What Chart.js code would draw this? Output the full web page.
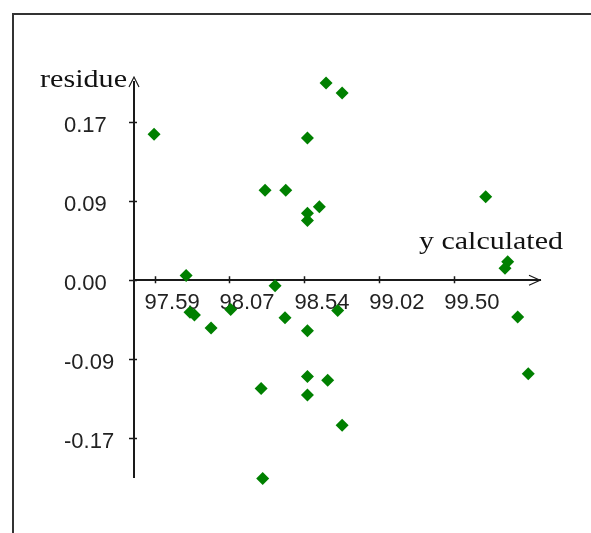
<!DOCTYPE html>
<html>
<head>
<meta charset="utf-8">
<script src="https://cdn.jsdelivr.net/npm/chart.js@4.4.0/dist/chart.umd.min.js"></script>
<style>
html, body { margin: 0; padding: 0; background: #fff; overflow: hidden; }
#frame { position: absolute; left: 12px; top: 13px; width: 700px; height: 700px;
	border-left: 2px solid #333; border-top: 2px solid #333; }
#chart-area { position: absolute; left: 0; top: 0; }
</style>
</head>
<body>
<div id="frame"></div>
<canvas id="chart-area" width="591" height="533"></canvas>
<script>
// values
var yCalculated = [97.586, 97.790, 97.815, 97.843, 97.949, 98.074, 98.293, 98.425, 98.357, 98.420,
	98.268, 98.278, 98.563, 98.682, 98.784, 98.639, 98.563, 98.563, 98.756, 98.563,
	98.563, 98.692, 98.563, 98.784, 99.699, 99.839, 99.822, 99.903, 99.970];
var residue = [0.159, 0.005, -0.035, -0.038, -0.052, -0.032, 0.098, 0.098, -0.006, -0.041,
	-0.118, -0.216, 0.155, 0.215, 0.204, 0.080, 0.073, 0.065, -0.033, -0.055,
	-0.105, -0.109, -0.125, -0.158, 0.091, 0.020, 0.013, -0.040, -0.102];

var xTickValues = [97.589, 98.0665, 98.544, 99.0215, 99.499];
var xTickLabels = ['97.59', '98.07', '98.54', '99.02', '99.50'];
var yTickValues = [-0.172, -0.086, 0, 0.086, 0.172];
var yTickLabels = ['-0.17', '-0.09', '0.00', '0.09', '0.17'];

var points = yCalculated.map(function (x, i) {
	return { x: x, y: residue[i] };
});

// draws text stretched to a given width
function wideText(ctx, text, x, y, w) {
	var m = ctx.measureText(text).width;
	ctx.save();
	ctx.translate(x, y);
	ctx.scale(w / m, 1);
	ctx.fillText(text, 0, 0);
	ctx.restore();
}

var axisDecor = {
	id: 'axisDecor',
	afterDraw: function (chart) {
		var ctx = chart.ctx;
		var xs = chart.scales.x, ys = chart.scales.y;
		var y0 = ys.getPixelForValue(0);
		var left = chart.chartArea.left;
		ctx.save();
		ctx.strokeStyle = '#1a1a1a';
		ctx.lineWidth = 1.5;
		ctx.beginPath();
		xs.ticks.forEach(function (t) {
			var px = Math.round(xs.getPixelForValue(t.value)) + 0.5;
			ctx.moveTo(px, y0 - 4);
			ctx.lineTo(px, y0 + 3);
		});
		ys.ticks.forEach(function (t) {
			var py = Math.round(ys.getPixelForValue(t.value)) + 0.5;
			ctx.moveTo(left - 5, py);
			ctx.lineTo(left + 3, py);
		});
		ctx.stroke();

		// arrow heads
		ctx.lineWidth = 1.2;
		ctx.beginPath();
		ctx.moveTo(left - 5, chart.chartArea.top + 5);
		ctx.lineTo(left, chart.chartArea.top - 5);
		ctx.lineTo(left + 5, chart.chartArea.top + 5);
		var r = chart.chartArea.right;
		ctx.moveTo(r - 11, y0 - 5);
		ctx.lineTo(r, y0);
		ctx.lineTo(r - 11, y0 + 5);
		ctx.stroke();

		// axis names
		ctx.fillStyle = '#111';
		ctx.font = '26px "Liberation Serif"';
		ctx.textBaseline = 'alphabetic';
		ctx.textAlign = 'left';
		wideText(ctx, 'residue', 40, 87, 87);
		wideText(ctx, 'y calculated', 419, 249, 144);
		ctx.restore();
	}
};

var myChart = new Chart(document.getElementById('chart-area'), {
	type: 'scatter',
	data: {
		datasets: [{
			label: 'residue',
			data: points,
			pointStyle: 'rectRot',
			pointRadius: 6.5,
			pointHoverRadius: 6.5,
			backgroundColor: '#008000',
			borderColor: '#008000',
			borderWidth: 0,
			clip: false
		}]
	},
	options: {
		responsive: false,
		animation: false,
		events: [],
		layout: {
			padding: { left: 64, top: 82, right: 51, bottom: 56 }
		},
		plugins: {
			legend: { display: false },
			tooltip: { enabled: false },
			title: { display: false }
		},
		scales: {
			x: {
				type: 'linear',
				position: { y: 0 },
				min: 97.458,
				max: 100.045,
				afterBuildTicks: function (scale) {
					scale.ticks = xTickValues.map(function (v) { return { value: v }; });
				},
				grid: { display: true, drawOnChartArea: false, drawTicks: false },
				border: { display: true, color: '#1a1a1a', width: 2 },
				ticks: {
					autoSkip: false,
					maxRotation: 0,
					align: 'start',
					labelOffset: -10,
					padding: 10,
					color: '#222',
					font: { family: '"Liberation Sans"', size: 22 },
					callback: function (value, index) { return xTickLabels[index]; }
				}
			},
			y: {
				type: 'linear',
				position: 'left',
				min: -0.2145,
				max: 0.216,
				afterBuildTicks: function (scale) {
					scale.ticks = yTickValues.map(function (v) { return { value: v }; });
				},
				afterFit: function (scale) {
					scale.width = 70;
				},
				grid: { display: true, drawOnChartArea: false, drawTicks: false },
				border: { display: true, color: '#1a1a1a', width: 2 },
				ticks: {
					autoSkip: false,
					crossAlign: 'far',
					labelOffset: 4,
					color: '#222',
					font: { family: '"Liberation Sans"', size: 22 },
					callback: function (value, index) { return yTickLabels[index]; }
				}
			}
		}
	},
	plugins: [axisDecor]
});
</script>
</body>
</html>
